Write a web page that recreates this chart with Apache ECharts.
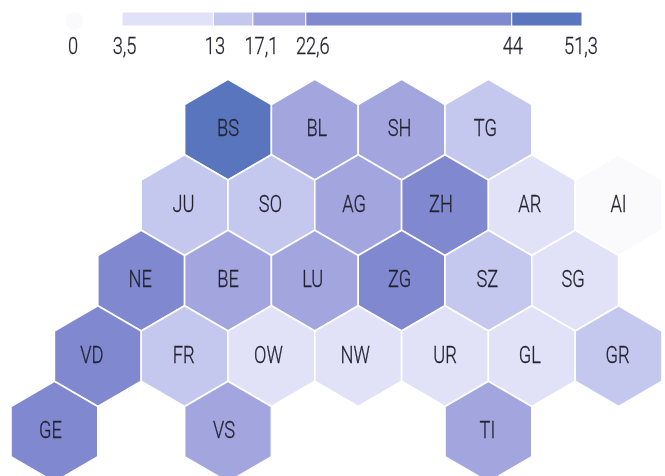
<!DOCTYPE html>
<html><head><meta charset="utf-8">
<style>html,body{margin:0;padding:0;background:#fff}#c{width:665px;height:476px}</style>
<script src="https://cdn.jsdelivr.net/npm/echarts@6/dist/echarts.min.js"></script>
</head><body><div id="c"></div>
<script>
const cantons = ['BS','BL','SH','TG','JU','SO','AG','ZH','AR','AI','NE','BE','LU','ZG','SZ','SG','VD','FR','OW','NW','UR','GL','GR','GE','VS','TI'];
const columns = [4,6,8,10,3,5,7,9,11,13,2,4,6,8,10,12,1,3,5,7,9,11,13,0,4,10];
const rows =    [0,0,0,0,1,1,1,1,1,1,2,2,2,2,2,2,3,3,3,3,3,3,3,4,4,4];
const values =  [47,20,19,15,14,14.5,20,30,8,0,26,19,21,32,15,8,28,15,9,7,6,8,14,30,20,21];
const breaks = [3.5,13,17.1,22.6,44,51.3];
const tickLabels = ['3,5','13','17,1','22,6','44','51,3'];
const palette = ['#e1e2f8','#c5c8ee','#a3a6de','#8088cf','#5875bd'];
const zeroColor = '#fafafd';

const FONT = '"Roboto",sans-serif';
const TEXT = '#23232f';
const labelNudgeX = {BL:2,SH:-2,TG:-3,JU:-1,SO:-1,AG:-4,ZH:-4,AR:-2,NE:-1,LU:-2,ZG:-2,SZ:-1,SG:-2,VD:-6,FR:-1,OW:-3,NW:-3,GL:-2,GR:-1,GE:-4,VS:-4,TI:-1};
const tickNudgeX = [2.5,1.5,8.5,7,1,-1];

function colorFor(v){
  if (v < breaks[0]) return zeroColor;
  for (let i = 0; i < palette.length; i++) if (v <= breaks[i+1]) return palette[i];
  return palette[palette.length-1];
}
function txt(x,y,s){
  return {type:'text',x:x,y:y,scaleX:0.76,silent:true,
    style:{text:s,x:0,y:0,align:'center',verticalAlign:'middle',fill:TEXT,font:'300 24px '+FONT,stroke:TEXT,lineWidth:0.3}};
}

const hexData = cantons.map((n,i)=>[columns[i],rows[i],values[i],n]);
const legendData = palette.map((c,i)=>[breaks[i],breaks[i+1]]);

const option = {
  animation:false,
  backgroundColor:'#fff',
  grid:[
    {left:54.4,width:564.2,top:129.6,height:302,containLabel:false},
    {left:122,width:460,top:12,height:14}
  ],
  xAxis:[
    {gridIndex:0,type:'value',min:0,max:13,show:false},
    {gridIndex:1,type:'value',min:breaks[0],max:breaks[breaks.length-1],show:false}
  ],
  yAxis:[
    {gridIndex:0,type:'value',min:0,max:4,inverse:true,show:false},
    {gridIndex:1,type:'value',min:0,max:1,show:false}
  ],
  series:[
    {type:'custom',xAxisIndex:0,yAxisIndex:0,data:hexData,clip:false,silent:true,
      encode:{x:0,y:1},
      renderItem:(p,api)=>{
        const c=api.coord([api.value(0),api.value(1)]);
        const hw=api.size([1,0])[0];
        const h=api.size([0,1])[1];
        const hh=h*2/3, sh=h/3;
        const name=hexData[p.dataIndex][3];
        return {type:'group',children:[
          {type:'polygon',shape:{points:[[c[0],c[1]-hh],[c[0]+hw,c[1]-sh],[c[0]+hw,c[1]+sh],[c[0],c[1]+hh],[c[0]-hw,c[1]+sh],[c[0]-hw,c[1]-sh]]},
           style:{fill:colorFor(api.value(2)),stroke:'#fff',lineWidth:1.6}},
          txt(c[0]+(labelNudgeX[name]||0),c[1]+0.5,name)
        ]};
      }},
    {type:'custom',xAxisIndex:1,yAxisIndex:1,data:legendData,clip:false,silent:true,
      encode:{x:[0,1]},
      renderItem:(p,api)=>{
        const a=api.coord([api.value(0),1]);
        const b=api.coord([api.value(1),0]);
        const i=p.dataIndex;
        const kids=[{type:'rect',shape:{x:a[0],y:a[1],width:b[0]-a[0],height:b[1]-a[1]},
          style:{fill:palette[i],stroke:'#fff',lineWidth:1}}];
        kids.push(txt(a[0]+tickNudgeX[i],47.5,tickLabels[i]));
        if(i===palette.length-1) kids.push(txt(b[0]+tickNudgeX[i+1],47.5,tickLabels[i+1]));
        if(i===0){
          kids.push({type:'circle',shape:{cx:74.5,cy:21,r:9},style:{fill:zeroColor}});
          kids.push(txt(73,47.5,'0'));
        }
        return {type:'group',children:kids};
      }}
  ]
};
echarts.init(document.getElementById('c'),null,{renderer:'canvas'}).setOption(option);
</script></body></html>
